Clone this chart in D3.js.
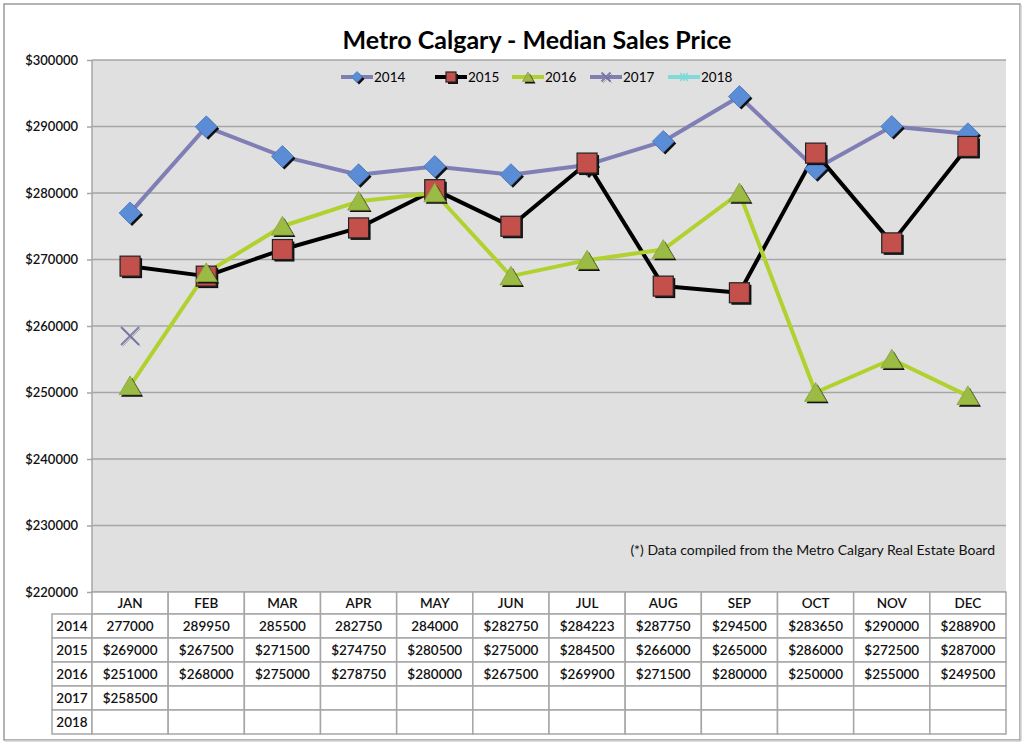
<!DOCTYPE html>
<html><head><meta charset="utf-8">
<script src="https://cdn.jsdelivr.net/npm/d3@7"></script>
<style>
html,body{margin:0;padding:0;background:#fff;}
svg{display:block;font-family:Lato,"Open Sans",sans-serif;}
</style></head>
<body>
<svg id="c" width="1024" height="744"></svg>
<script>
const months = ["JAN","FEB","MAR","APR","MAY","JUN","JUL","AUG","SEP","OCT","NOV","DEC"];
const years = ["2014","2015","2016","2017","2018"];
const v2014 = [277000,289950,285500,282750,284000,282750,284223,287750,294500,283650,290000,288900];
const v2015 = [269000,267500,271500,274750,280500,275000,284500,266000,265000,286000,272500,287000];
const v2016 = [251000,268000,275000,278750,280000,267500,269900,271500,280000,250000,255000,249500];
const v2017 = [258500,null,null,null,null,null,null,null,null,null,null,null];
const v2018 = [null,null,null,null,null,null,null,null,null,null,null,null];
// months in the 2014 table row shown without a "$" sign
const plainMonths2014 = ["JAN","FEB","MAR","APR","MAY"];
const yTicks = [220000,230000,240000,250000,260000,270000,280000,290000,300000];
const title = "Metro Calgary - Median Sales Price";
const note = "(*) Data compiled from the Metro Calgary Real Estate Board";

const series = [
  {name:"2014", values:v2014, line:"#7f7fb6", fill:"#5b8dd6", marker:"diamond"},
  {name:"2015", values:v2015, line:"#000000", fill:"#c4504b", marker:"square"},
  {name:"2016", values:v2016, line:"#b0d12e", fill:"#9bbb45", marker:"triangle"},
  {name:"2017", values:v2017, line:"#8080b0", fill:"#8080b0", marker:"x"},
  {name:"2018", values:v2018, line:"#7fdada", fill:"#7fdada", marker:"star"}
];

const svg = d3.select("#c");
const L = 92, R = 1006, T = 60, B = 592;

// outer frame
svg.append("rect").attr("x",4).attr("y",4).attr("width",1016).attr("height",736)
  .attr("fill","#fff").attr("stroke","#9a9a9a").attr("stroke-width",1.5);
svg.append("line").attr("x1",1021).attr("x2",1021).attr("y1",5).attr("y2",741).attr("stroke","#d0d0d0").attr("stroke-width",1.5);
svg.append("line").attr("x1",5).attr("x2",1021).attr("y1",741).attr("y2",741).attr("stroke","#d0d0d0").attr("stroke-width",1.5);

const x = d3.scaleBand().domain(months).range([L,R]);
const y = d3.scaleLinear().domain([220000,300000]).range([B,T]);

svg.append("rect").attr("x",L).attr("y",T).attr("width",R-L).attr("height",B-T).attr("fill","#e0e0e0");

// gridlines
svg.append("g").selectAll("line").data(yTicks).join("line")
  .attr("x1",L).attr("x2",R).attr("y1",d=>y(d)).attr("y2",d=>y(d))
  .attr("stroke","#a6a6a6").attr("stroke-width",1.5);
svg.append("line").attr("x1",L).attr("x2",L).attr("y1",T).attr("y2",B).attr("stroke","#a6a6a6").attr("stroke-width",1.5);

// y axis
const ya = svg.append("g").attr("transform",`translate(${L},0)`)
  .call(d3.axisLeft(y).tickValues(yTicks).tickFormat(d=>"$"+d).tickSize(5).tickPadding(9));
ya.select(".domain").remove();
ya.selectAll("line").attr("stroke","#a6a6a6").attr("stroke-width",1.5);
ya.selectAll("text").attr("font-size",13).attr("font-family","Lato,sans-serif").attr("fill","#111").attr("font-weight",600);

// title
svg.append("text").attr("x",537).attr("y",49).attr("text-anchor","middle")
  .attr("font-size",25).attr("font-weight","bold").attr("fill","#000").text(title);

// note
svg.append("text").attr("x",995).attr("y",555).attr("text-anchor","end")
  .attr("font-size",14).attr("fill","#111").text(note);

function drawMarker(g, type, cx, cy, s, fill, scale){
  const k = scale||1;
  if(type==="diamond"){
    const r=11*k;
    g.append("path").attr("d",`M${cx+2},${cy-r+2}L${cx+r+2},${cy+2}L${cx+2},${cy+r+2}L${cx-r+2},${cy+2}Z`).attr("fill","#111");
    g.append("path").attr("d",`M${cx},${cy-r}L${cx+r},${cy}L${cx},${cy+r}L${cx-r},${cy}Z`).attr("fill",fill).attr("stroke","#4a78bd").attr("stroke-width",0.8);
  } else if(type==="square"){
    const r=10*k;
    g.append("rect").attr("x",cx-r+2).attr("y",cy-r+2).attr("width",2*r).attr("height",2*r).attr("fill","#111");
    g.append("rect").attr("x",cx-r).attr("y",cy-r).attr("width",2*r).attr("height",2*r).attr("fill",fill).attr("stroke","#222").attr("stroke-width",1.2);
  } else if(type==="triangle"){
    const r=11*k;
    g.append("path").attr("d",`M${cx-r+2},${cy+r*0.8+2}L${cx+r+2},${cy+r*0.8+2}L${cx+2},${cy-r*0.9+2}Z`).attr("fill","#111");
    g.append("path").attr("d",`M${cx-r},${cy+r*0.8}L${cx+r},${cy+r*0.8}L${cx},${cy-r*0.9}Z`).attr("fill",fill).attr("stroke","#86a33a").attr("stroke-width",0.8);
  } else if(type==="x"){
    const r=9*k;
    g.append("path").attr("d",`M${cx-r},${cy-r}L${cx+r},${cy+r}M${cx+r},${cy-r}L${cx-r},${cy+r}`).attr("stroke",fill).attr("stroke-width",2.2);
    g.append("path").attr("d",`M${cx-r+1.5},${cy-r+1.5}L${cx+r+1.5},${cy+r+1.5}M${cx+r+1.5},${cy-r+1.5}L${cx-r+1.5},${cy+r+1.5}`).attr("stroke","#555").attr("stroke-width",0.8).attr("opacity",0.5);
  } else if(type==="star"){
    const r=8*k;
    g.append("path").attr("d",`M${cx-r},${cy-r}L${cx+r},${cy+r}M${cx+r},${cy-r}L${cx-r},${cy+r}M${cx},${cy-r}L${cx},${cy+r}`).attr("stroke",fill).attr("stroke-width",1.5);
  }
}

// lines
const line = d3.line().defined(d=>d.v!=null).x(d=>x(d.m)+x.bandwidth()/2).y(d=>y(d.v));
series.forEach(s=>{
  const pts = months.map((m,i)=>({m, v:s.values[i]}));
  if(s.marker!=="x" && s.marker!=="star"){
    svg.append("path").datum(pts).attr("d",line).attr("fill","none")
      .attr("stroke",s.line).attr("stroke-width",4).attr("stroke-linejoin","round");
  }
});
series.forEach(s=>{
  const g = svg.append("g");
  months.forEach((m,i)=>{
    const v=s.values[i]; if(v==null) return;
    drawMarker(g, s.marker, x(m)+x.bandwidth()/2, y(v), 1, s.fill);
  });
});

// legend
const legX = [327,421,498,576,654];
series.forEach((s,i)=>{
  const g = svg.append("g");
  const lx = legX[i], ly = 77;
  g.append("line").attr("x1",lx+14).attr("x2",lx+46).attr("y1",ly).attr("y2",ly).attr("stroke",s.line).attr("stroke-width",4);
  drawMarker(g, s.marker, lx+30, ly, 1, s.fill, 0.5);
  g.append("text").attr("x",lx+47).attr("y",ly+5).attr("font-size",13.5).attr("fill","#000").text(s.name);
});

// table
const rowH = 24;
const headTop = B, headH = 22;
const tg = svg.append("g");
const tStroke = "#a6a6a6";
const fmt = (s,m,v)=> (s.name==="2014" && plainMonths2014.includes(m)) ? String(v) : "$"+v;
months.forEach(m=>{
  tg.append("rect").attr("x",x(m)).attr("y",headTop).attr("width",x.bandwidth()).attr("height",headH)
    .attr("fill","#fff").attr("stroke",tStroke).attr("stroke-width",1.5);
  tg.append("text").attr("x",x(m)+x.bandwidth()/2).attr("y",headTop+16).attr("text-anchor","middle")
    .attr("font-size",13.5).attr("font-weight",600).attr("fill","#111").text(m);
});
series.forEach((s,r)=>{
  const ry = headTop+headH+r*rowH;
  tg.append("rect").attr("x",52).attr("y",ry).attr("width",L-52).attr("height",rowH)
    .attr("fill","#fff").attr("stroke",tStroke).attr("stroke-width",1.5);
  tg.append("text").attr("x",(52+L)/2).attr("y",ry+17).attr("text-anchor","middle")
    .attr("font-size",13.5).attr("font-weight",600).attr("fill","#111").text(s.name);
  months.forEach((m,i)=>{
    tg.append("rect").attr("x",x(m)).attr("y",ry).attr("width",x.bandwidth()).attr("height",rowH)
      .attr("fill","#fff").attr("stroke",tStroke).attr("stroke-width",1.5);
    const v=s.values[i];
    if(v!=null){
      tg.append("text").attr("x",x(m)+x.bandwidth()/2).attr("y",ry+17).attr("text-anchor","middle")
        .attr("font-size",13.5).attr("font-weight",600).attr("fill","#111").text(fmt(s,m,v));
    }
  });
});
</script>
</body></html>
